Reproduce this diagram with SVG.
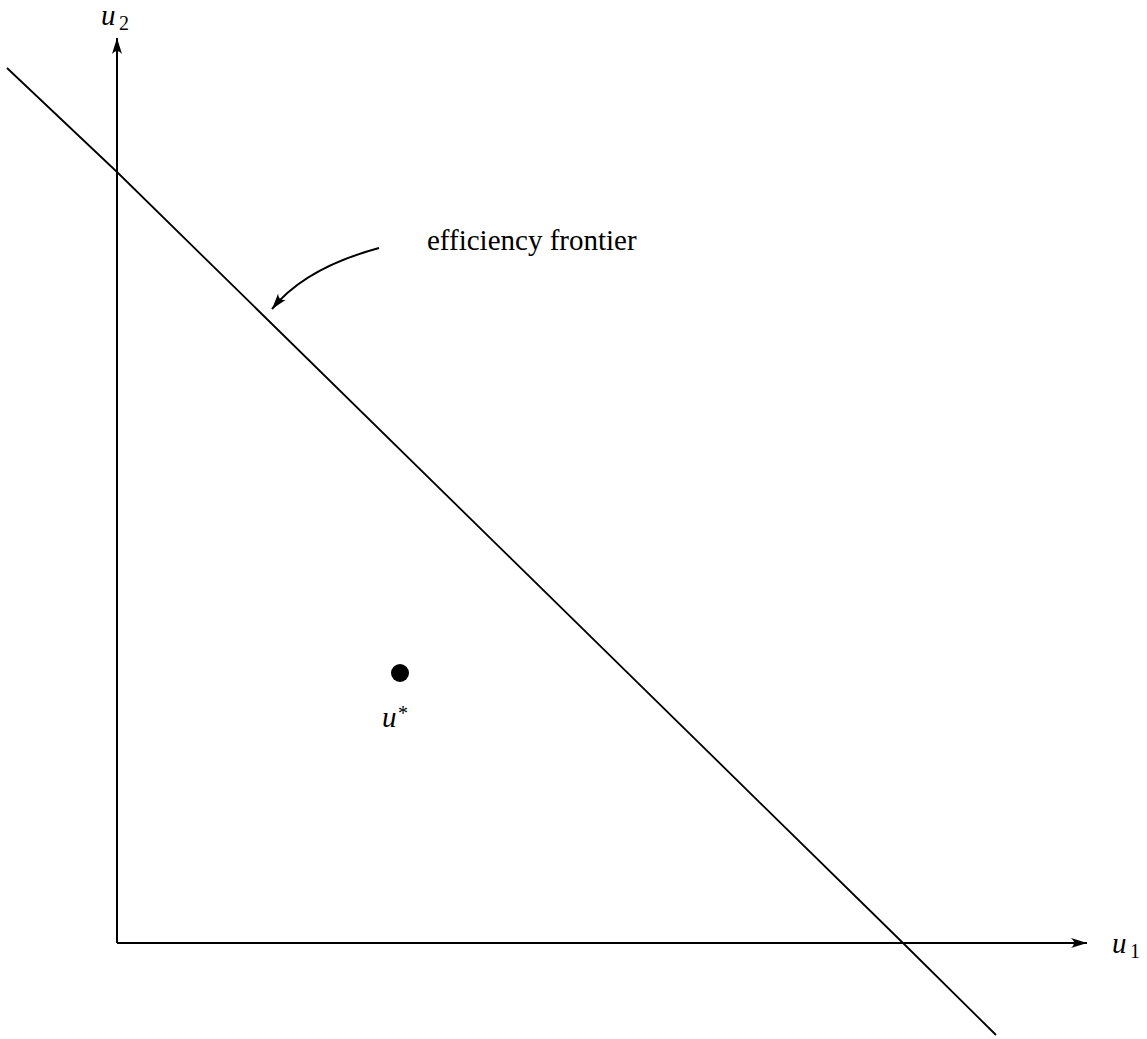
<svg xmlns="http://www.w3.org/2000/svg" width="1147" height="1039" viewBox="0 0 1147 1039">
<style>
.ln{fill:none;stroke:#000;stroke-width:2}
.fr{fill:none;stroke:#000;stroke-width:1.8}
.lbl{font-family:"Liberation Serif","Times New Roman",serif;fill:#000}
.it{font-style:italic}
</style>
<defs>
<marker id="ah" markerUnits="userSpaceOnUse" viewBox="-16 -6 18 12" refX="0" refY="0" markerWidth="18" markerHeight="12" orient="auto">
<path d="M0,0 L-16,-5 Q-10,0 -16,5 Z" fill="#000"/>
</marker>
</defs>
<rect width="1147" height="1039" fill="#fff"/>
<g id="connectors">
<line id="y-axis" class="ln" x1="117" y1="943" x2="117" y2="38" marker-end="url(#ah)"/>
<line id="x-axis" class="ln" x1="117" y1="943" x2="1087" y2="943" marker-end="url(#ah)"/>
<polyline id="frontier" class="fr" points="7,68 117,172 903,943 996,1035"/>
<path id="pointer" class="ln" d="M379,248 Q305,268 272,309" marker-end="url(#ah)"/>
</g>
<g id="label-u2">
<text class="lbl it" x="101" y="25" font-size="29">u</text>
<text class="lbl" x="119" y="30" font-size="20">2</text>
</g>
<g id="label-u1">
<text class="lbl it" x="1112" y="953" font-size="29">u</text>
<text class="lbl" x="1130" y="958" font-size="20">1</text>
</g>
<g id="label-frontier">
<text class="lbl" x="427" y="250" font-size="29">efficiency frontier</text>
</g>
<g id="point-ustar">
<circle cx="400" cy="673" r="9" fill="#000"/>
<text class="lbl it" x="382" y="727" font-size="29">u</text>
<text class="lbl" x="398" y="720" font-size="20">*</text>
</g>
</svg>
